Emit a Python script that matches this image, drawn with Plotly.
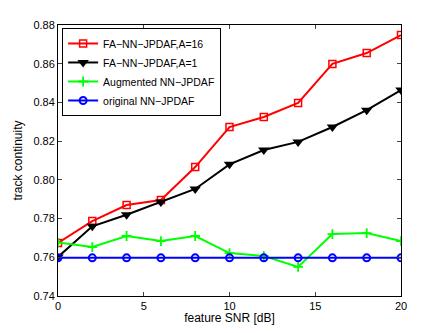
import plotly.graph_objects as go

snr = [0, 2, 4, 6, 8, 10, 12, 14, 16, 18, 20]

fa16 = [0.7674, 0.7787, 0.7870, 0.7896, 0.8066, 0.8273, 0.8325, 0.8397, 0.8599, 0.8655, 0.8748]
fa1 = [0.7602, 0.7760, 0.7820, 0.7886, 0.7953, 0.8080, 0.8154, 0.8196, 0.8273, 0.8360, 0.8464]
augmented = [0.7676, 0.7653, 0.7710, 0.7684, 0.7710, 0.7622, 0.7607, 0.7550, 0.7720, 0.7725, 0.7684]
original = [0.7597] * 11

names = ["FA\u2212NN\u2212JPDAF,A=16", "FA\u2212NN\u2212JPDAF,A=1",
         "Augmented NN\u2212JPDAF", "original NN\u2212JPDAF"]

fig = go.Figure()
fig.add_trace(go.Scatter(x=snr, y=fa16, name=names[0], mode="lines+markers",
                         line=dict(color="#ff0000", width=2),
                         marker=dict(symbol="square-open", size=7, color="#ff0000", line=dict(width=1.5))))
fig.add_trace(go.Scatter(x=snr, y=fa1, name=names[1], mode="lines+markers",
                         line=dict(color="#000000", width=2),
                         marker=dict(symbol="triangle-down", size=10, color="#000000")))
fig.add_trace(go.Scatter(x=snr, y=augmented, name=names[2], mode="lines+markers",
                         line=dict(color="#00ff00", width=2),
                         marker=dict(symbol="cross-thin-open", size=7, color="#00ff00", line=dict(width=1.8, color="#00ff00"))))
fig.add_trace(go.Scatter(x=snr, y=original, name=names[3], mode="lines+markers",
                         line=dict(color="#0000ff", width=2),
                         marker=dict(symbol="circle-open", size=7, color="#0000ff", line=dict(width=2))))

# the page body has an 8px margin, so the figure is sized to fit inside it
fig.update_layout(
    width=427, height=317,
    margin=dict(l=50, r=34, t=17, b=29),
    paper_bgcolor="white", plot_bgcolor="white",
    font=dict(family="Liberation Sans, Arial, sans-serif", size=11, color="black"),
    showlegend=True,
    legend=dict(x=0.012, y=0.989, xanchor="left", yanchor="top",
                bgcolor="white", bordercolor="black", borderwidth=1,
                font=dict(size=10.5), tracegroupgap=0, itemwidth=30),
)
fig.update_xaxes(range=[0, 20], tickvals=[0, 5, 10, 15, 20], ticks="inside", ticklen=4,
                 showline=True, linecolor="black", linewidth=1, mirror="ticks",
                 showgrid=False, zeroline=False, automargin=False,
                 title=dict(text="feature SNR [dB]", font=dict(size=12), standoff=4))
fig.update_yaxes(range=[0.74, 0.88], tickvals=[0.74, 0.76, 0.78, 0.80, 0.82, 0.84, 0.86, 0.88],
                 tickformat=".2f", ticks="inside", ticklen=4,
                 showline=True, linecolor="black", linewidth=1, mirror="ticks",
                 showgrid=False, zeroline=False, automargin=False,
                 title=dict(text="track continuity", font=dict(size=12), standoff=8))

fig.write_html("out.html")
